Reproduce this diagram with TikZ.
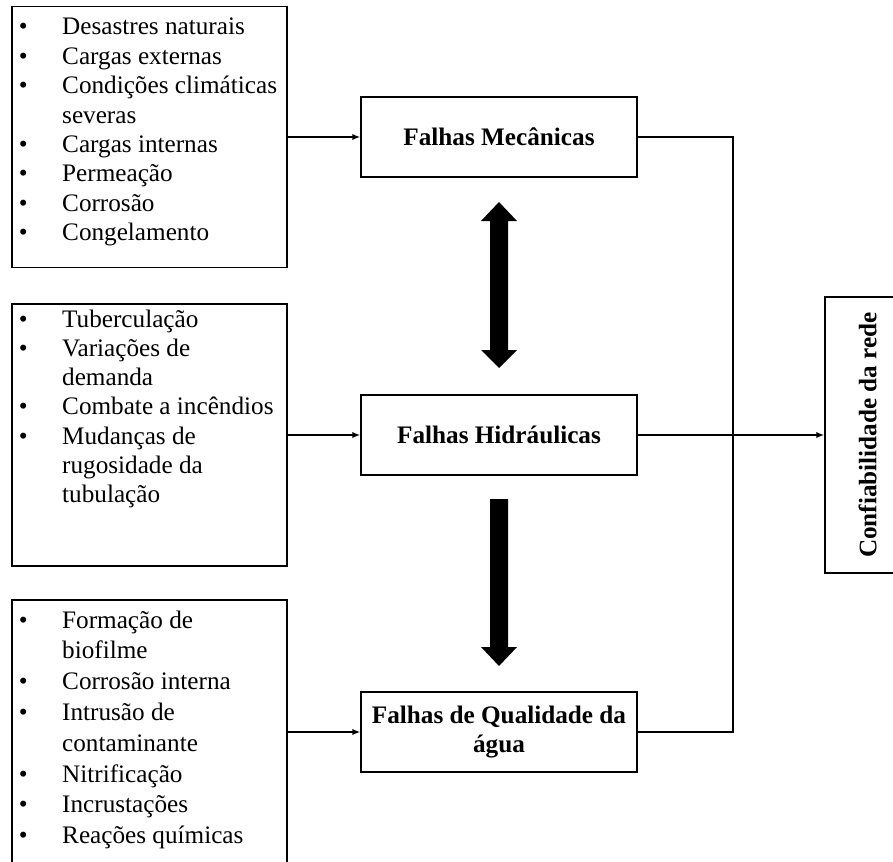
\documentclass[tikz,border=0pt]{standalone}
\usepackage{fontspec}
\setmainfont{Liberation Serif}
\usepackage{graphicx}
\usetikzlibrary{arrows.meta}
\newcommand\bul{\makebox[43.4pt][l]{•}}
\begin{document}
\begin{tikzpicture}[x=1pt,y=-1pt,
  box/.style={draw, line width=1.5pt, inner sep=0pt},
  lst/.style={anchor=base west, inner sep=0pt},
  lbl/.style={box, minimum width=276pt, minimum height=80pt,
     font=\fontsize{25.2}{29}\selectfont\bfseries, align=center},
  conn/.style={line width=2pt},
  arr/.style={conn, -{Latex[length=8pt,width=6.5pt]}},
  blockarrow/.style={fill=black}
]
\useasboundingbox (0,0) rectangle (893,861);
\clip (0,0) rectangle (893,861);
% left boxes
\node[box, minimum width=275pt, minimum height=261pt] (b1) at (149.5,137) {};
\node[box, minimum width=275pt, minimum height=262pt] (b2) at (149.5,435) {};
\node[box, minimum width=275pt, minimum height=264pt] (b3) at (149.5,732) {};
% list texts
\node[lst, font=\fontsize{25.2}{29.4}\selectfont] (t1) at (18.6,35) {\begin{tabular}[t]{@{}l@{}l@{}}
\bul & Desastres naturais\\
\bul & Cargas externas\\
\bul & Condições climáticas\\
 & severas\\
\bul & Cargas internas\\
\bul & Permeação\\
\bul & Corrosão\\
\bul & Congelamento
\end{tabular}};
\node[lst, font=\fontsize{25.2}{29.3}\selectfont] (t2) at (18.6,327) {\begin{tabular}[t]{@{}l@{}l@{}}
\bul & Tuberculação\\
\bul & Variações de\\
 & demanda\\
\bul & Combate a incêndios\\
\bul & Mudanças de\\
 & rugosidade da\\
 & tubulação
\end{tabular}};
\node[lst, font=\fontsize{25.2}{30.8}\selectfont] (t3) at (18.6,628) {\begin{tabular}[t]{@{}l@{}l@{}}
\bul & Formação de\\
 & biofilme\\
\bul & Corrosão interna\\
\bul & Intrusão de\\
 & contaminante\\
\bul & Nitrificação\\
\bul & Incrustações\\
\bul & Reações químicas
\end{tabular}};
% central boxes
\node[lbl] (fm) at (499,137) {Falhas Mecânicas};
\node[lbl] (fh) at (499,435) {Falhas Hidráulicas};
\node[lbl] (fq) at (499,732) {Falhas de Qualidade da\\água};
% right box
\node[box, minimum width=85pt, minimum height=276pt,
  font=\fontsize{25.2}{29}\selectfont\bfseries] (conf) at (867.5,435)
  {\rotatebox{90}{Confiabilidade da rede}};
% connectors
\draw[arr] (b1.east) -- (fm.west);
\draw[arr] (b2.east) -- (fh.west);
\draw[arr] (b3.east) -- (fq.west);
\draw[conn] (fm.east) -- ++(95,0) |- (fq.east);
\draw[arr] (fh.east) -- (conf.west);
% block arrows
\fill[blockarrow] (499,202) -- (517,221) -- (508,221) -- (508,350) -- (517,350)
  -- (499,368) -- (481,350) -- (490,350) -- (490,221) -- (481,221) -- cycle;
\fill[blockarrow] (490,499) -- (508,499) -- (508,647) -- (517,647)
  -- (499,666) -- (481,647) -- (490,647) -- cycle;
\end{tikzpicture}
\end{document}
